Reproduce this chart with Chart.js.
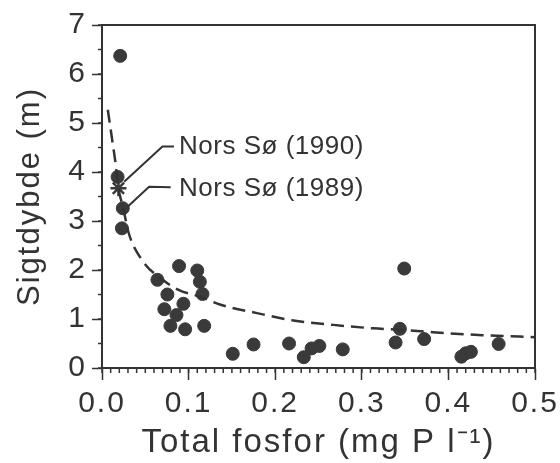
<!DOCTYPE html>
<html lang="da">
<head>
<meta charset="UTF-8">
<title>Sigtdybde og total fosfor</title>
<script src="https://cdn.jsdelivr.net/npm/chart.js"></script>
<style>
  html, body { margin: 0; padding: 0; background: #fff; }
  #wrap { width: 560px; height: 463px; }
</style>
</head>
<body>
<div id="wrap"><canvas id="chart" width="560" height="463"></canvas></div>
<script>
  // søer: total fosfor (mg P/l) og sigtdybde (m)
  const lakeP      = [0.021, 0.018, 0.024, 0.023, 0.064, 0.089, 0.110, 0.113, 0.116, 0.0755, 0.094,
                      0.072, 0.086, 0.079, 0.096, 0.118, 0.151, 0.175, 0.216, 0.233, 0.242, 0.251,
                      0.278, 0.349, 0.344, 0.339, 0.372, 0.415, 0.420, 0.426, 0.458];
  const lakeSecchi = [6.37, 3.90, 3.26, 2.85, 1.80, 2.08, 1.99, 1.76, 1.51, 1.50, 1.31,
                      1.20, 1.08, 0.86, 0.79, 0.86, 0.29, 0.48, 0.50, 0.22, 0.40, 0.45,
                      0.38, 2.03, 0.80, 0.52, 0.59, 0.23, 0.30, 0.33, 0.49];

  // Nors Sø 1990 (stjerne)
  const norsP = [0.019];
  const norsSecchi = [3.67];

  // stiplet kurve
  const fitP      = [0.0067, 0.0118, 0.0156, 0.0185, 0.0245, 0.0309, 0.0463, 0.070, 0.089, 0.114,
                     0.137, 0.179, 0.221, 0.267, 0.313, 0.344, 0.382, 0.439, 0.500];
  const fitSecchi = [5.27, 4.65, 4.18, 3.72, 3.26, 2.75, 2.20, 1.80, 1.59, 1.45,
                     1.29, 1.12, 0.97, 0.88, 0.81, 0.78, 0.73, 0.67, 0.63];

  // henvisningslinjer og tekster
  const lead1990P = [0.0256, 0.0698, 0.0831];
  const lead1990S = [3.80, 4.52, 4.52];
  const lead1989P = [0.0295, 0.0544, 0.0793];
  const lead1989S = [3.29, 3.70, 3.69];
  const labelText = ['Nors Sø (1990)', 'Nors Sø (1989)'];
  const labelP = [0.089, 0.089];
  const labelS = [4.52, 3.65];

  const xMin = 0, xMax = 0.5, xStep = 0.1, xMinorStep = 0.01;
  const yMin = 0, yMax = 7, yStep = 1, yMinorStep = 0.5;

  const ink = '#333';
  const family = '"Liberation Sans", Arial, sans-serif';

  function pts(xs, ys) {
    return xs.map((x, i) => ({ x: x, y: ys[i] }));
  }

  // teksten i figuren er spærret lidt ud
  const spacingPlugin = {
    id: 'spacing',
    beforeUpdate(chart) { chart.ctx.letterSpacing = '2px'; },
    beforeDraw(chart) { chart.ctx.letterSpacing = '2px'; }
  };

  const framePlugin = {
    id: 'frame',
    afterDraw(chart) {
      const ctx = chart.ctx;
      const a = chart.chartArea;
      const xs = chart.scales.x, ys = chart.scales.y;
      ctx.save();
      ctx.strokeStyle = ink;
      ctx.lineWidth = 2;
      ctx.strokeRect(a.left, a.top, a.right - a.left, a.bottom - a.top);
      // små streger
      ctx.lineWidth = 1.5;
      ctx.beginPath();
      const nx = Math.round((xMax - xMin) / xMinorStep);
      for (let i = 0; i <= nx; i++) {
        const px = xs.getPixelForValue(xMin + i * xMinorStep);
        ctx.moveTo(px, a.bottom);
        ctx.lineTo(px, a.bottom + 5);
      }
      const ny = Math.round((yMax - yMin) / yMinorStep);
      for (let i = 0; i <= ny; i++) {
        const py = ys.getPixelForValue(yMin + i * yMinorStep);
        ctx.moveTo(a.left, py);
        ctx.lineTo(a.left - 4, py);
      }
      ctx.stroke();
      // tekster
      ctx.letterSpacing = '0.5px';
      ctx.fillStyle = ink;
      ctx.font = '26px ' + family;
      ctx.textAlign = 'left';
      ctx.textBaseline = 'middle';
      labelText.forEach((t, i) => {
        ctx.fillText(t, xs.getPixelForValue(labelP[i]), ys.getPixelForValue(labelS[i]));
      });
      ctx.restore();
    }
  };

  new Chart(document.getElementById('chart'), {
    type: 'scatter',
    data: {
      datasets: [
        {
          data: pts(fitP, fitSecchi),
          showLine: true,
          borderColor: ink,
          borderWidth: 2.5,
          borderDash: [13, 7],
          cubicInterpolationMode: 'monotone',
          pointRadius: 0
        },
        {
          data: pts(lead1990P, lead1990S),
          showLine: true,
          borderColor: ink,
          borderWidth: 2,
          pointRadius: 0
        },
        {
          data: pts(lead1989P, lead1989S),
          showLine: true,
          borderColor: ink,
          borderWidth: 2,
          pointRadius: 0
        },
        {
          data: pts(lakeP, lakeSecchi),
          pointRadius: 6.5,
          backgroundColor: '#3a3a3a',
          borderColor: '#3a3a3a',
          borderWidth: 1
        },
        {
          data: pts(norsP, norsSecchi),
          pointStyle: 'star',
          pointRadius: 8,
          borderColor: '#3a3a3a',
          borderWidth: 2.5
        }
      ]
    },
    options: {
      responsive: false,
      devicePixelRatio: 1,
      animation: false,
      layout: { padding: { top: 25, right: 25, left: 0, bottom: 0 } },
      plugins: { legend: { display: false }, tooltip: { enabled: false } },
      scales: {
        x: {
          type: 'linear',
          min: xMin, max: xMax,
          afterFit(scale) {
            scale.height = 95;
            scale.paddingLeft = 0;
            scale.paddingRight = 0;
          },
          border: { display: true, color: ink, width: 2 },
          grid: { drawOnChartArea: false, drawTicks: true, tickLength: 12, color: ink, tickWidth: 1.5 },
          ticks: {
            stepSize: xStep,
            color: ink,
            padding: 6,
            maxRotation: 0,
            font: { family: family, size: 30 },
            callback: v => v.toFixed(1)
          },
          title: {
            display: true,
            text: 'Total fosfor (mg P l⁻¹)',
            color: ink,
            padding: { top: 0, bottom: 0 },
            font: { family: family, size: 33 }
          }
        },
        y: {
          type: 'linear',
          min: yMin, max: yMax,
          afterFit(scale) {
            scale.width = 102;
            scale.paddingTop = 0;
            scale.paddingBottom = 0;
          },
          border: { display: true, color: ink, width: 2 },
          grid: { drawOnChartArea: false, drawTicks: true, tickLength: 10, color: ink, tickWidth: 1.5 },
          ticks: {
            stepSize: yStep,
            color: ink,
            padding: 5,
            font: { family: family, size: 30 }
          },
          title: {
            display: true,
            text: 'Sigtdybde (m)',
            color: ink,
            padding: { top: 12, bottom: 0 },
            font: { family: family, size: 31 }
          }
        }
      }
    },
    plugins: [spacingPlugin, framePlugin]
  });
</script>
</body>
</html>
